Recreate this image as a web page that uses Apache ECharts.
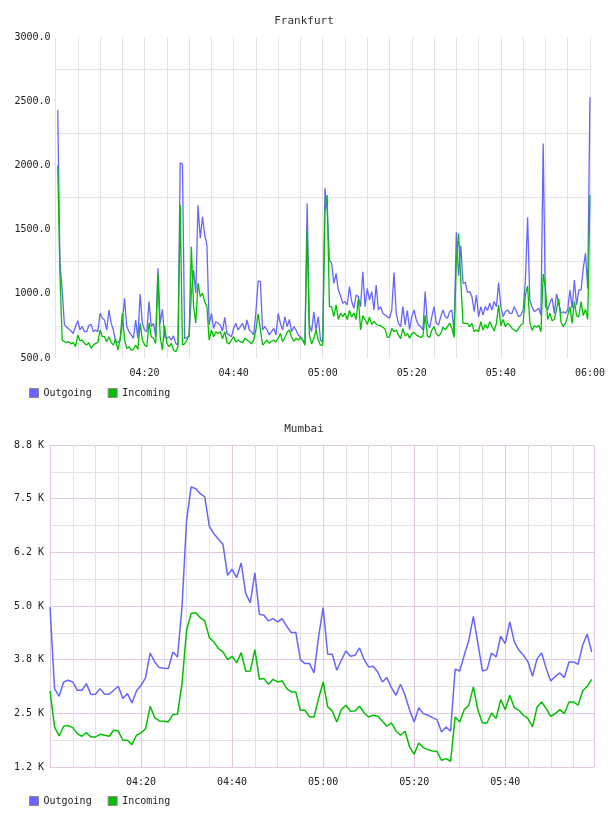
<!DOCTYPE html>
<html>
<head>
<meta charset="utf-8">
<script src="https://cdn.jsdelivr.net/npm/echarts@6/dist/echarts.min.js"></script>
<style>
  html, body { margin: 0; padding: 0; background: #fff; }
  #chart { width: 608px; height: 816px; }
</style>
</head>
<body>
<div id="chart"></div>
<script>
// Frankfurt, one sample every 30 s from 04:00:30 to 06:00
const fraOut = [
  2430, 1240, 1030, 760, 740, 725, 710, 690, 745, 790,
  720, 745, 705, 705, 755, 762, 705, 718, 705, 848,
  809, 796, 718, 874, 770, 718, 627, 620, 640, 770,
  965, 745, 705, 680, 653, 796, 653, 998, 770, 718,
  705, 939, 744, 770, 666, 1198, 770, 879, 666, 653,
  666, 640, 672, 614, 600, 2020, 2010, 650, 660, 666,
  1000, 1185, 1006, 1690, 1432, 1600, 1458, 1380, 757, 848,
  730, 783, 770, 757, 710, 817, 690, 680, 666, 730,
  770, 718, 744, 770, 718, 796, 718, 705, 680, 860,
  1100, 1095, 718, 744, 718, 680, 705, 730, 680, 848,
  770, 718, 820, 744, 800, 705, 744, 718, 680, 666,
  640, 614, 1705, 760, 705, 860, 718, 822, 640, 620,
  1821, 1650, 1263, 1237, 1081, 1159, 1030, 985, 926, 940,
  913, 1056, 940, 887, 990, 978, 900, 1172, 900, 1043,
  952, 1017, 874, 1069, 874, 900, 848, 835, 822, 810,
  874, 1165, 850, 770, 744, 900, 757, 870, 720, 822,
  874, 800, 757, 744, 718, 1017, 770, 735, 822, 900,
  770, 757, 822, 874, 822, 810, 861, 874, 700, 1480,
  1140, 1375, 1080, 1090, 1010, 1017, 978, 860, 990, 822,
  900, 835, 900, 870, 926, 874, 940, 900, 1087, 900,
  822, 861, 874, 848, 848, 900, 861, 822, 835, 870,
  1100, 1596, 952, 900, 861, 874, 887, 835, 2170, 900,
  874, 930, 965, 848, 1000, 926, 848, 861, 848, 874,
  1030, 887, 1107, 913, 1030, 1030, 1200, 1315, 1040, 2530
];
const fraIn = [
  2000, 1150, 640, 627, 620, 627, 610, 620, 588, 679,
  635, 640, 614, 601, 620, 575, 601, 614, 620, 718,
  666, 666, 627, 666, 620, 601, 650, 562, 640, 848,
  640, 575, 588, 562, 566, 601, 566, 770, 640, 601,
  588, 775, 666, 653, 614, 1159, 666, 562, 750, 614,
  588, 614, 562, 549, 588, 1692, 601, 610, 640, 680,
  1367, 900, 772, 1084, 978, 1004, 939, 900, 640, 718,
  665, 705, 690, 705, 650, 705, 620, 610, 640, 666,
  625, 640, 627, 620, 653, 640, 627, 610, 640, 720,
  843, 720, 600, 620, 640, 614, 630, 640, 625, 655,
  690, 627, 660, 700, 718, 666, 630, 653, 640, 660,
  640, 600, 1497, 680, 610, 650, 718, 640, 600, 600,
  1650, 1769, 900, 900, 822, 913, 800, 850, 822, 850,
  800, 870, 820, 850, 800, 965, 718, 830, 800, 760,
  820, 760, 785, 765, 755, 750, 740, 725, 660, 665,
  730, 705, 718, 680, 650, 730, 670, 690, 655, 690,
  700, 680, 670, 660, 670, 835, 670, 660, 718, 744,
  690, 670, 690, 740, 720, 744, 770, 730, 660, 1250,
  1470, 1100, 770, 770, 770, 745, 770, 705, 720, 705,
  783, 718, 760, 730, 783, 745, 710, 770, 913, 750,
  800, 745, 770, 757, 730, 718, 705, 730, 757, 770,
  990, 1061, 780, 715, 750, 740, 755, 705, 1154, 1050,
  800, 850, 790, 800, 880, 960, 780, 745, 770, 830,
  900, 770, 939, 830, 820, 939, 830, 880, 800, 1770
];

// Mumbai, one sample per minute from 04:00
const mumOut = [
  4978, 3076, 2897, 3231, 3270, 3231, 3037, 3037, 3192, 2936,
  2944, 3076, 2944, 2944, 3037, 3130, 2843, 2959, 2742, 3021,
  3153, 3332, 3906, 3697, 3565, 3549, 3542, 3930, 3810, 4978,
  6996, 7773, 7734, 7617, 7540, 6857, 6686, 6554, 6437, 5715,
  5855, 5661, 6003, 5288, 5071, 5770, 4807, 4784, 4652, 4706,
  4628, 4706, 4527, 4380, 4380, 3751, 3658, 3658, 3441, 4279,
  4962, 3875, 3875, 3503, 3736, 3953, 3829, 3852, 4023, 3751,
  3580, 3596, 3464, 3231, 3332, 3099, 2921, 3177, 2921, 2571,
  2300, 2633, 2494, 2455, 2401, 2354, 2067, 2183, 2082, 3526,
  3487, 3852, 4201, 4760, 4124, 3487, 3518, 3906, 3813, 4295,
  4124, 4628, 4163, 3968, 3852, 3697, 3363, 3774, 3906, 3542,
  3254, 3363, 3441, 3332, 3697, 3697, 3643, 4085, 4341, 3930
];
const mumIn = [
  3021, 2183, 1973, 2199, 2214, 2168, 2028, 1966, 2051, 1950,
  1950, 2012, 1989, 1966, 2106, 2090, 1872, 1872, 1772, 1989,
  2043, 2144, 2664, 2401, 2323, 2315, 2300, 2470, 2478, 3192,
  4434, 4823, 4846, 4729, 4652, 4264, 4163, 4007, 3930, 3751,
  3829, 3674, 3914, 3480, 3487, 3984, 3293, 3309, 3177, 3293,
  3231, 3254, 3076, 2998, 2998, 2571, 2571, 2416, 2416, 2843,
  3231, 2649, 2556, 2300, 2587, 2688, 2548, 2556, 2664, 2509,
  2416, 2455, 2432, 2323, 2199, 2276, 2090, 1989, 2082, 1717,
  1547, 1811, 1702, 1655, 1624, 1616, 1407, 1446, 1384, 2416,
  2300, 2587, 2688, 3115, 2571, 2276, 2276, 2509, 2377, 2820,
  2587, 2921, 2633, 2571, 2455, 2377, 2183, 2649, 2765, 2610,
  2432, 2494, 2587, 2494, 2765, 2765, 2688, 3021, 3130, 3293
];

// tick labels (x in minutes after 04:00)
const xTickMinutes = [20, 40, 60, 80, 100, 120];
const xTickLabels = ['04:20', '04:40', '05:00', '05:20', '05:40', '06:00'];
const fraYTicks = [500, 1000, 1500, 2000, 2500, 3000];
const fraYLabels = ['500.0', '1000.0', '1500.0', '2000.0', '2500.0', '3000.0'];
const mumYTicks = [1250, 2500, 3750, 5000, 6250, 7500, 8750];
const mumYLabels = ['1.2 K', '2.5 K', '3.8 K', '5.0 K', '6.2 K', '7.5 K', '8.8 K'];

const fraTimes = fraOut.map((v, i) => 0.5 + i * 0.5);
const mumTimes = mumOut.map((v, i) => i);

const FONT = 'DejaVu Sans Mono';
const TEXT = '#222';
const BLUE = '#6666ff';
const GREEN = '#00c000';
const GRAY = '#e3e3e3';
const PINK = '#e2c9e2';

function lookup(ticks, labels) {
  return v => {
    const k = ticks.indexOf(v);
    return k < 0 ? '' : labels[k];
  };
}
function pairs(xs, ys) {
  return ys.map((y, i) => [xs[i], y]);
}

const labelStyle = { fontFamily: FONT, fontSize: 10, color: TEXT };

function lineSeries(name, color, xi, xs, ys, width) {
  return {
    name, type: 'line',
    xAxisIndex: xi, yAxisIndex: xi,
    data: pairs(xs, ys),
    showSymbol: false,
    color,
    lineStyle: { color, width },
    itemStyle: { color },
    emphasis: { disabled: true }
  };
}

function legendAt(top) {
  return {
    left: 24, top,
    icon: 'rect',
    itemWidth: 9, itemHeight: 9, itemGap: 16,
    itemStyle: { borderColor: '#8a8a8a', borderWidth: 1 },
    textStyle: labelStyle,
    selectedMode: false,
    data: ['Outgoing', 'Incoming']
  };
}

var myChart = echarts.init(document.getElementById('chart'));
var option = {
  animation: false,
  title: [
    { text: 'Frankfurt', left: 'center', top: 11, textStyle: { fontFamily: FONT, fontSize: 11, fontWeight: 'normal', color: '#333' } },
    { text: 'Mumbai', left: 'center', top: 419, textStyle: { fontFamily: FONT, fontSize: 11, fontWeight: 'normal', color: '#333' } }
  ],
  legend: [legendAt(383), legendAt(791)],
  grid: [
    { left: 55.5, right: 14, top: 37, bottom: 458 },
    { left: 50, right: 14, top: 445, bottom: 49 }
  ],
  xAxis: [
    {
      type: 'value', gridIndex: 0, min: 0, max: 120, interval: 5,
      axisLine: { show: false }, axisTick: { show: false },
      axisLabel: Object.assign({ margin: 10, formatter: lookup(xTickMinutes, xTickLabels) }, labelStyle),
      splitLine: { lineStyle: { color: GRAY, width: 1 } }
    },
    {
      type: 'value', gridIndex: 1, min: 0, max: 119.5, interval: 5,
      axisLine: { show: false }, axisTick: { show: false },
      axisLabel: Object.assign({ margin: 10, formatter: lookup(xTickMinutes, xTickLabels) }, labelStyle),
      splitLine: { lineStyle: { color: [PINK, GRAY, GRAY, GRAY], width: 1 } }
    }
  ],
  yAxis: [
    {
      type: 'value', gridIndex: 0, min: 500, max: 3000, interval: 250,
      axisLine: { show: false }, axisTick: { show: false },
      axisLabel: Object.assign({ margin: 5, formatter: lookup(fraYTicks, fraYLabels) }, labelStyle),
      splitLine: { lineStyle: { color: ['rgba(0,0,0,0)', GRAY], width: 1 } }
    },
    {
      type: 'value', gridIndex: 1, min: 1250, max: 8750, interval: 625,
      axisLine: { show: false }, axisTick: { show: false },
      axisLabel: Object.assign({ margin: 6, formatter: lookup(mumYTicks, mumYLabels) }, labelStyle),
      splitLine: { lineStyle: { color: [PINK, GRAY], width: 1 } }
    }
  ],
  series: [
    lineSeries('Outgoing', BLUE, 0, fraTimes, fraOut, 1.3),
    lineSeries('Incoming', GREEN, 0, fraTimes, fraIn, 1.3),
    lineSeries('Outgoing', BLUE, 1, mumTimes, mumOut, 1.5),
    lineSeries('Incoming', GREEN, 1, mumTimes, mumIn, 1.5)
  ]
};
option && myChart.setOption(option);
</script>
</body>
</html>
